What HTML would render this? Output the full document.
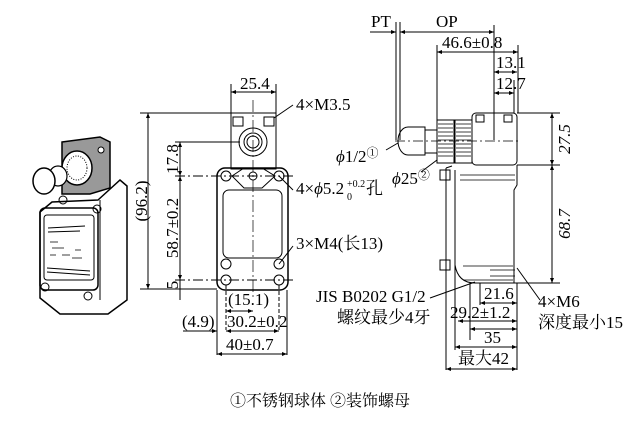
<!DOCTYPE html>
<html><head><meta charset="utf-8"><style>
html,body{margin:0;padding:0;background:#fff}
svg{display:block}
text{font-family:"Liberation Serif","Noto Serif CJK SC",serif;font-size:17px;fill:#000}
</style></head><body>
<svg width="642" height="421" viewBox="0 0 642 421" xmlns="http://www.w3.org/2000/svg">
<defs>
<marker id="a" viewBox="0 0 10 10" refX="10" refY="5" markerWidth="7" markerHeight="5" orient="auto-start-reverse"><path d="M0,1 L10,5 L0,9 z" fill="#000"/></marker>
</defs>
<g stroke="#000" fill="none" stroke-width="1">
<path d="M62,142 L100,137 L110,142 L110,188 L90,194 L62,194 Z" fill="#999" stroke-width="1.5"/>
<circle cx="101" cy="150" r="3" fill="#fff"/>
<ellipse cx="77" cy="168" rx="15" ry="17" fill="#fff" stroke-width="1.5"/>
<ellipse cx="77" cy="168" rx="10" ry="12" stroke-dasharray="1,1.5"/>
<ellipse cx="58" cy="176" rx="9" ry="10" fill="#fff" stroke-width="1.2"/>
<ellipse cx="44" cy="181" rx="11" ry="13" fill="#fff" stroke-width="1.5"/>
<path d="M98,200 L120,180 L127,186 L127,300 L108,314 L60,314 L40,298 L40,212 L52,202 Z" fill="#fff" stroke-width="1.5"/>
<path d="M100,200 L100,300"/>
<rect x="40" y="208" width="58" height="82" rx="5" stroke-width="1.5"/>
<rect x="44" y="215" width="50" height="65" rx="3"/>
<line x1="48" y1="228" x2="85" y2="226"/><line x1="48" y1="232" x2="80" y2="231"/>
<line x1="47" y1="268" x2="90" y2="271"/><line x1="47" y1="272" x2="90" y2="275"/>
<path d="M50,242 h8 M52,248 h12 M50,255 h6 M62,255 h8 M75,250 h6 M72,258 h10" stroke-width="0.8"/>
<circle cx="45" cy="287" r="4"/><circle cx="88" cy="296" r="4"/><circle cx="63" cy="200" r="4"/><circle cx="97" cy="209" r="4"/>
<rect x="231" y="113" width="45" height="56" />
<circle cx="253" cy="142" r="14"/><circle cx="253" cy="142" r="9"/><circle cx="253" cy="142" r="6"/>
<rect x="233" y="117" width="10" height="9"/><rect x="264" y="117" width="10" height="9"/>
<rect x="217" y="168" width="71" height="122" rx="8" stroke-width="1.5"/>
<rect x="223" y="190" width="59" height="68" rx="6"/>
<path d="M232,176 L244,168 L262,168 L275,176 L262,188 L244,188 Z"/>
<circle cx="253" cy="176" r="4"/>
<circle cx="226" cy="176" r="5"/><circle cx="279" cy="176" r="5"/>
<circle cx="226" cy="264" r="5"/><circle cx="279" cy="264" r="5"/>
<circle cx="226" cy="280" r="5"/><circle cx="279" cy="280" r="5"/>
<line x1="253" y1="100" x2="253" y2="300" stroke-dasharray="12,3,2,3" stroke-width="0.7"/>
<line x1="231" y1="84" x2="231" y2="113"/><line x1="276" y1="84" x2="276" y2="113"/>
<line x1="231" y1="92" x2="276" y2="92" marker-start="url(#a)" marker-end="url(#a)"/>
<line x1="140" y1="113" x2="231" y2="113"/>
<line x1="175" y1="142" x2="240" y2="142"/>
<line x1="175" y1="176" x2="293" y2="176" stroke-dasharray="10,3,2,3"/>
<line x1="175" y1="280" x2="293" y2="280" stroke-dasharray="10,3,2,3"/>
<line x1="140" y1="289" x2="217" y2="289"/>
<line x1="148" y1="113" x2="148" y2="289" marker-start="url(#a)" marker-end="url(#a)"/>
<line x1="180" y1="142" x2="180" y2="176" marker-start="url(#a)" marker-end="url(#a)"/>
<line x1="180" y1="176" x2="180" y2="280" marker-start="url(#a)" marker-end="url(#a)"/>
<line x1="180" y1="280" x2="180" y2="300"/>
<line x1="217" y1="290" x2="217" y2="355"/><line x1="287" y1="290" x2="287" y2="355"/>
<line x1="226" y1="285" x2="226" y2="330" stroke-dasharray="4,2"/><line x1="279" y1="285" x2="279" y2="330" stroke-dasharray="4,2"/>
<line x1="226" y1="311" x2="253" y2="311" marker-start="url(#a)" marker-end="url(#a)"/>
<line x1="226" y1="331" x2="279" y2="331" marker-start="url(#a)" marker-end="url(#a)"/>
<line x1="183" y1="331" x2="217" y2="331" marker-end="url(#a)"/>
<line x1="217" y1="354" x2="287" y2="354" marker-start="url(#a)" marker-end="url(#a)"/>
<line x1="274" y1="118" x2="293" y2="105"/>
<line x1="279" y1="176" x2="293" y2="190"/>
<line x1="279" y1="264" x2="293" y2="246"/>
<rect x="472" y="113" width="45" height="52" rx="4"/>
<rect x="476" y="115" width="8" height="7"/><rect x="504" y="115" width="8" height="7"/>
<rect x="437" y="120" width="17" height="43" fill="#fff"/><rect x="455" y="120" width="17" height="43" fill="#fff"/>
<path d="M438,124 h15 M438,128 h15 M438,132 h15 M438,136 h15 M438,140 h15 M438,144 h15 M438,148 h15 M438,152 h15 M438,156 h15 M456,124 h15 M456,128 h15 M456,132 h15 M456,136 h15 M456,140 h15 M456,144 h15 M456,148 h15 M456,152 h15 M456,156 h15" stroke-width="0.8"/>
<rect x="425" y="130" width="12" height="23"/>
<path d="M408,127 L425,127 L425,155 L408,155 A10,14 0 0 1 408,127 Z"/>
<line x1="395" y1="141" x2="520" y2="141" stroke-dasharray="10,3,2,3" stroke-width="0.7"/>
<line x1="446" y1="168" x2="446" y2="283"/><line x1="455" y1="170" x2="455" y2="283"/>
<path d="M446,168 L452,166 M517,165 L517,185 L514,190 L514,283" />
<path d="M440,170 h10 v10 h-10 z M440,260 h10 v10 h-10 z"/>
<path d="M460,175 h55 M460,180 h55 M490,270 h25 M490,276 h25 M463,266 h50 M463,280 h50" stroke-width="0.7"/>
<path d="M455,265 Q458,283 475,283 L517,283"/>
<line x1="396" y1="22" x2="396" y2="140"/><line x1="400" y1="22" x2="400" y2="140"/>
<line x1="494" y1="25" x2="494" y2="140" /><line x1="437" y1="45" x2="437" y2="120"/><line x1="518" y1="45" x2="518" y2="113"/>
<line x1="514" y1="80" x2="514" y2="113"/>
<line x1="370" y1="32" x2="396" y2="32" marker-end="url(#a)"/>
<line x1="400" y1="32" x2="494" y2="32" marker-start="url(#a)" marker-end="url(#a)"/>
<line x1="437" y1="52" x2="518" y2="52" marker-start="url(#a)" marker-end="url(#a)"/>
<line x1="494" y1="72" x2="517" y2="72" marker-start="url(#a)" marker-end="url(#a)"/>
<line x1="494" y1="93" x2="514" y2="93" marker-start="url(#a)" marker-end="url(#a)"/>
<line x1="517" y1="113" x2="560" y2="113"/><line x1="517" y1="165" x2="560" y2="165"/><line x1="517" y1="283" x2="560" y2="283"/>
<line x1="552" y1="113" x2="552" y2="165" marker-start="url(#a)" marker-end="url(#a)"/>
<line x1="552" y1="165" x2="552" y2="283" marker-start="url(#a)" marker-end="url(#a)"/>
<line x1="446" y1="283" x2="446" y2="370"/><line x1="455" y1="283" x2="455" y2="350"/>
<line x1="517" y1="283" x2="517" y2="370"/>
<line x1="480" y1="283" x2="480" y2="305"/><line x1="470" y1="283" x2="470" y2="340"/>
<line x1="480" y1="303" x2="517" y2="303" marker-start="url(#a)" marker-end="url(#a)"/>
<line x1="458" y1="321" x2="517" y2="321" marker-start="url(#a)" marker-end="url(#a)"/>
<line x1="470" y1="329" x2="517" y2="329" marker-start="url(#a)" marker-end="url(#a)"/>
<line x1="455" y1="347" x2="517" y2="347" marker-start="url(#a)" marker-end="url(#a)"/>
<line x1="446" y1="369" x2="517" y2="369" marker-start="url(#a)" marker-end="url(#a)"/>
<line x1="386" y1="150" x2="398" y2="143"/>
<line x1="421" y1="172" x2="437" y2="160"/>
<line x1="430" y1="298" x2="475" y2="282"/>
<line x1="540" y1="300" x2="517" y2="268"/>
</g>
<g>
<text x="240" y="89">25.4</text>
<text x="296" y="110">4×M3.5</text>
<text x="296" y="194">4×<tspan font-style="italic">ϕ</tspan>5.2</text>
<text x="347" y="187" style="font-size:10px">+0.2</text>
<text x="347" y="200" style="font-size:10px">0</text>
<text x="366" y="194">孔</text>
<text x="296" y="249">3×M4(长13)</text>
<text transform="translate(147,201) rotate(-90)" text-anchor="middle">(96.2)</text>
<text transform="translate(178,159) rotate(-90)" text-anchor="middle">17.8</text>
<text transform="translate(178,228) rotate(-90)" text-anchor="middle">58.7±0.2</text>
<text transform="translate(178,285) rotate(-90)" text-anchor="middle">5</text>
<text x="228" y="305">(15.1)</text>
<text x="182" y="327">(4.9)</text>
<text x="227" y="327">30.2±0.2</text>
<text x="226" y="350">40±0.7</text>
<text x="371" y="27">PT</text>
<text x="436" y="27">OP</text>
<text x="442" y="48">46.6±0.8</text>
<text x="496" y="68">13.1</text>
<text x="496" y="89">12.7</text>
<text x="336" y="162"><tspan font-style="italic">ϕ</tspan>1/2<tspan style="font-size:12px" dy="-5">①</tspan></text>
<text x="392" y="184"><tspan font-style="italic">ϕ</tspan>25<tspan style="font-size:12px" dy="-5">②</tspan></text>
<text transform="translate(570,139) rotate(-90)" text-anchor="middle" font-style="italic">27.5</text>
<text transform="translate(570,224) rotate(-90)" text-anchor="middle" font-style="italic">68.7</text>
<text x="316" y="302">JIS B0202 G1/2</text>
<text x="337" y="323">螺纹最少4牙</text>
<text x="484" y="299">21.6</text>
<text x="450" y="318">29.2±1.2</text>
<text x="484" y="343">35</text>
<text x="458" y="364">最大42</text>
<text x="538" y="307">4×M6</text>
<text x="538" y="328">深度最小15</text>
<text x="230" y="406" style="font-size:16px">①不锈钢球体 ②装饰螺母</text>
</g>
</svg>
</body></html>
